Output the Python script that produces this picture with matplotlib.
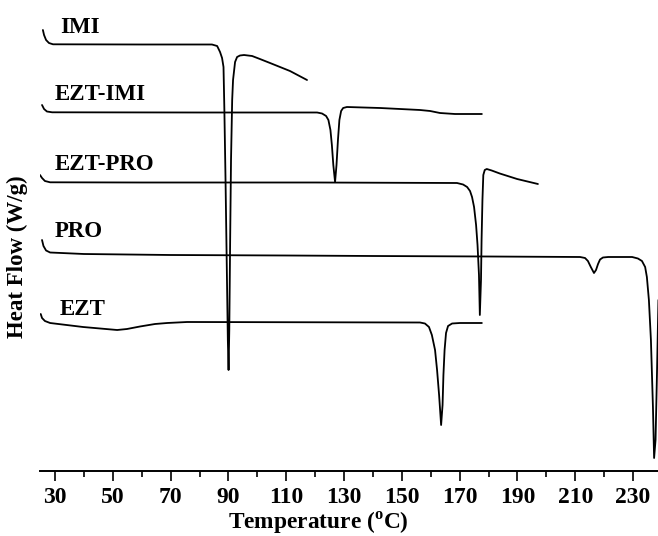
import numpy as np
import matplotlib
matplotlib.use("Agg")
import matplotlib.pyplot as plt
from matplotlib.ticker import MultipleLocator

# DSC thermograms, offset vertically
imi_t = [25.8, 26.2, 26.9, 27.9, 29.3, 60, 84.3, 86.1, 87.1, 87.8, 88.3, 88.6, 89.0, 89.4, 89.8,
         90.05, 90.3, 90.6, 90.9, 91.3, 91.6, 92.3, 93.0, 94.0, 95.4, 98.2, 100.9, 104.4, 111.3, 117.2]
imi_hf = [44.1, 43.6, 43.1, 42.8, 42.67, 42.65, 42.65, 42.5, 41.9, 41.3, 40.4, 36.1, 29.1, 21.1, 13.1,
          10.1, 14.1, 23.1, 31.1, 37.1, 39.1, 40.9, 41.4, 41.55, 41.6, 41.5, 41.2, 40.8, 40.0, 39.1]

ezt_imi_t = [25.5, 26.2, 27.2, 29.0, 80, 120.7, 122.4, 123.8, 124.6, 125.3, 125.8, 126.3, 126.9,
             127.4, 127.9, 128.4, 129.0, 129.7, 131.0, 142.5, 149.4, 156.3, 159.8, 163.2, 168.4, 177.7]
ezt_imi_hf = [36.6, 36.2, 35.95, 35.87, 35.85, 35.85, 35.75, 35.5, 35.1, 34.1, 32.6, 30.6, 28.9,
              30.6, 33.1, 35.1, 36.0, 36.3, 36.4, 36.3, 36.2, 36.1, 36.0, 35.8, 35.7, 35.7]

ezt_pro_t = [24.8, 25.5, 26.5, 28.3, 60, 120, 169.1, 171.2, 172.6, 173.6, 174.3, 175.0, 175.7,
             176.2, 176.7, 177.0, 177.4, 177.6, 177.9, 178.2, 178.7, 179.4, 181.1, 183.9, 189.9, 197.1]
ezt_pro_hf = [29.6, 29.3, 29.0, 28.87, 28.85, 28.85, 28.8, 28.65, 28.4, 28.0, 27.4, 26.4, 24.6,
              22.6, 19.6, 15.6, 19.1, 23.1, 27.1, 29.6, 30.1, 30.2, 30.05, 29.75, 29.2, 28.7]

pro_t = [25.5, 26.0, 26.9, 28.3, 40, 70, 110, 140, 180, 211.7, 213.4, 214.4, 215.4, 216.5, 217.2,
         217.9, 218.6, 219.6, 221.4, 229.7, 231.7, 233.1, 234.2, 234.8, 235.5, 236.2, 236.9, 237.3,
         237.8, 238.3, 238.8]
pro_hf = [23.1, 22.5, 22.05, 21.85, 21.7, 21.6, 21.55, 21.5, 21.45, 21.4, 21.3, 21.0, 20.4, 19.8, 20.1,
          20.7, 21.15, 21.35, 21.4, 21.4, 21.25, 21.0, 20.4, 19.4, 17.1, 13.1, 6.4, 1.3,
          3.1, 9.8, 17.1]

ezt_t = [25.05, 25.5, 26.5, 28.3, 39.7, 51.5, 54.9, 59.4, 64.6, 68.8, 75.7, 156.3, 158.0, 159.4,
         160.4, 161.5, 162.2, 162.9, 163.6, 164.1, 164.4, 164.8, 165.3, 166.0, 167.4, 170.1, 177.7]
ezt_hf = [15.7, 15.3, 15.0, 14.8, 14.4, 14.1, 14.2, 14.45, 14.7, 14.8, 14.9, 14.85, 14.75, 14.4,
          13.6, 12.1, 10.1, 7.6, 4.6, 6.6, 9.6, 12.1, 13.8, 14.5, 14.75, 14.8, 14.8]

names = ["IMI", "EZT-IMI", "EZT-PRO", "PRO", "EZT"]
label_x = [31.7, 30.0, 30.0, 30.0, 31.7]
label_y = [43.8, 37.1, 30.1, 23.4, 15.6]

plt.rcParams['font.family'] = ['Liberation Serif', 'DejaVu Serif']
plt.rcParams['font.weight'] = 'bold'
plt.rcParams['mathtext.fontset'] = 'custom'
plt.rcParams['mathtext.rm'] = 'Liberation Serif:bold'
plt.rcParams['mathtext.bf'] = 'Liberation Serif:bold'

fig = plt.figure(figsize=(6.58, 5.36), dpi=100)
ax = fig.add_axes([40 / 658, 65 / 536, 618 / 658, 471 / 536])

curves = [(imi_t, imi_hf), (ezt_imi_t, ezt_imi_hf), (ezt_pro_t, ezt_pro_hf),
          (pro_t, pro_hf), (ezt_t, ezt_hf)]
for (t, hf) in curves:
    ax.plot(t, hf, color='black', lw=1.3, solid_joinstyle='round', solid_capstyle='round')

for name, x, y in zip(names, label_x, label_y):
    ax.text(x, y, name, fontsize=16.5, fontweight='bold', ha='left', va='baseline')

ax.set_xlim(24.8, 238.65)
ax.set_ylim(0, 47.1)

ax.xaxis.set_minor_locator(MultipleLocator(10))
ax.set_xticks(np.arange(30, 231, 20))
ax.tick_params(axis='x', which='major', direction='out', length=7.5, width=1.2,
               labelsize=17, pad=4)
ax.tick_params(axis='x', which='minor', direction='out', length=4, width=1.2)
ax.set_yticks([])

for side in ['left', 'right', 'top']:
    ax.spines[side].set_visible(False)
ax.spines['bottom'].set_linewidth(1.4)

ax.set_xlabel(r"Temperature ($^{\mathrm{o}}$C)", fontsize=16.8, fontweight='bold')
ax.xaxis.set_label_coords(0.45, -0.082)
ax.set_ylabel("Heat Flow (W/g)", fontsize=16.5, fontweight='bold')
ax.yaxis.set_label_coords(-0.02, 0.456)

fig.savefig("out.png", dpi=100)
